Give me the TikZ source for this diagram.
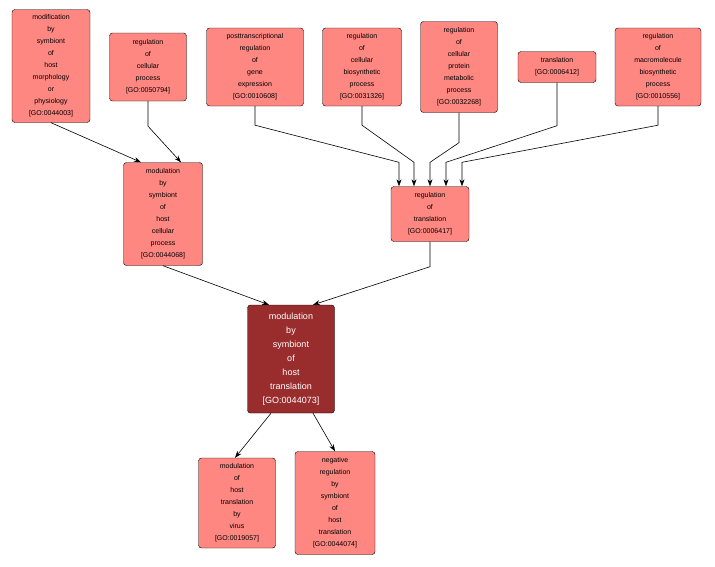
\documentclass[tikz,border=0pt]{standalone}
\usepackage{fontspec}
\setmainfont{Liberation Sans}
\usetikzlibrary{arrows.meta,calc}
\definecolor{goFill}{RGB}{255,135,130}
\definecolor{goMain}{RGB}{153,45,45}
\tikzset{
  goterm/.style={draw=black,fill=goFill,rounded corners=3pt,align=center,
    inner sep=1pt,font=\fontsize{7}{12}\selectfont},
  gomain/.style={goterm,fill=goMain,text=white,font=\fontsize{9}{14}\selectfont},
  edge/.style={-{Stealth[length=7pt,width=5pt]},line width=0.6pt}
}
\begin{document}
\begin{tikzpicture}[x=1pt,y=1pt,yscale=-1]
\useasboundingbox (0,0) rectangle (715,566);

% Text Node
\node[goterm,minimum width=78,minimum height=113] (t44003) at (51,66) {modification\\by\\symbiont\\of\\host\\morphology\\or\\physiology\\{[GO:0044003]}};
\node[goterm,minimum width=77,minimum height=68] (t50794) at (148,67) {regulation\\of\\cellular\\process\\{[GO:0050794]}};
\node[goterm,minimum width=97,minimum height=78] (t10608) at (255,67) {posttranscriptional\\regulation\\of\\gene\\expression\\{[GO:0010608]}};
\node[goterm,minimum width=79,minimum height=78] (t31326) at (362,67) {regulation\\of\\cellular\\biosynthetic\\process\\{[GO:0031326]}};
\node[goterm,minimum width=77,minimum height=91] (t32268) at (459,67) {regulation\\of\\cellular\\protein\\metabolic\\process\\{[GO:0032268]}};
\node[goterm,minimum width=78,minimum height=31] (t06412) at (557,67) {translation\\{[GO:0006412]}};
\node[goterm,minimum width=86,minimum height=78] (t10556) at (658,67) {regulation\\of\\macromolecule\\biosynthetic\\process\\{[GO:0010556]}};
\node[goterm,minimum width=79,minimum height=103] (t44068) at (163,214) {modulation\\by\\symbiont\\of\\host\\cellular\\process\\{[GO:0044068]}};
\node[goterm,minimum width=78,minimum height=55] (t06417) at (430,214) {regulation\\of\\translation\\{[GO:0006417]}};
\node[gomain,minimum width=87,minimum height=108] (t44073) at (291,359) {modulation\\by\\symbiont\\of\\host\\translation\\{[GO:0044073]}};
\node[goterm,minimum width=77,minimum height=90] (t19057) at (237,503) {modulation\\of\\host\\translation\\by\\virus\\{[GO:0019057]}};
\node[goterm,minimum width=80,minimum height=103] (t44074) at (335,503) {negative\\regulation\\by\\symbiont\\of\\host\\translation\\{[GO:0044074]}};

% Straight Lines
\draw[edge] (t44003.south) -- ($(t44068.north)+(-22,0)$);
\draw[edge] (t50794.south) -- ++(0,25) -- ($(t44068.north)+(18,0)$);
\draw[edge] (t10608.south) -- ++(0,19) -- ($(t06417.north)+(-31,-24)$) -- ($(t06417.north)+(-31,0)$);
\draw[edge] (t31326.south) -- ++(0,19) -- ($(t06417.north)+(-16,-24)$) -- ($(t06417.north)+(-16,0)$);
\draw[edge] (t32268.south) -- ++(0,30) -- ($(t06417.north)+(0,-24)$) -- (t06417.north);
\draw[edge] (t06412.south) -- ++(0,43) -- ($(t06417.north)+(16,-24)$) -- ($(t06417.north)+(16,0)$);
\draw[edge] (t10556.south) -- ++(0,19) -- ($(t06417.north)+(32,-24)$) -- ($(t06417.north)+(32,0)$);
\draw[edge] (t44068.south) -- ($(t44073.north)+(-22,0)$);
\draw[edge] (t06417.south) -- ++(0,25) -- ($(t44073.north)+(22,0)$);
\draw[edge] ($(t44073.south)+(-20,0)$) -- ($(t19057.north)+(-2,0)$);
\draw[edge] ($(t44073.south)+(22,0)$) -- (t44074.north);
\end{tikzpicture}
\end{document}
